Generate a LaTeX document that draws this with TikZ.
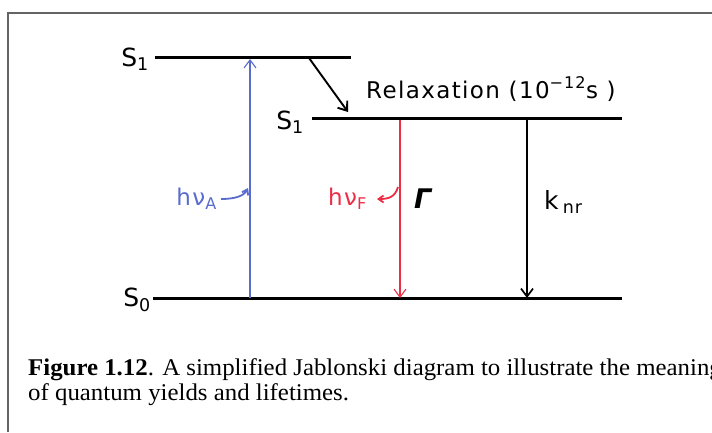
\documentclass[tikz,border=0pt]{standalone}
\usepackage{fontspec}
\setmainfont{Liberation Serif}
\setsansfont{DejaVu Sans}[LetterSpace=6]
\usetikzlibrary{arrows.meta}
\definecolor{absclr}{RGB}{90,108,205}
\definecolor{fluclr}{RGB}{235,45,70}
\definecolor{frameclr}{RGB}{100,100,100}
\tikzset{
  level/.style={line width=3pt,black},
  statelbl/.style={font=\fontsize{25}{25}\selectfont\sffamily,anchor=east,inner sep=0pt},
  lbl/.style={font=\fontsize{23}{23}\selectfont\sffamily,inner sep=0pt},
  trans/.style={-{Straight Barb[length=8pt,width=12pt]},line width=1.1pt},
  curly/.style={-{Straight Barb[length=5pt,width=7pt]},line width=1.8pt},
  caption/.style={anchor=base west,inner sep=0pt,transform shape,
                  font=\fontsize{24}{25}\selectfont},
}

\begin{document}
\begin{tikzpicture}[x=1pt,y=-1pt]
\useasboundingbox (0,0) rectangle (712,432);
\draw[frameclr,line width=1.5pt] (8,432) -- (8,13) -- (712,13);

% levels
\coordinate (s1aL) at (155,57);  \coordinate (s1aR) at (351,57);
\coordinate (s1bL) at (312,118); \coordinate (s1bR) at (622,118);
\coordinate (s0L) at (153,298);  \coordinate (s0R) at (622,298);
\draw[level] (s1aL) -- (s1aR);
\draw[level] (s1bL) -- (s1bR);
\draw[level] (s0L) -- (s0R);
\node[statelbl] (s1a) at (149,59) {S\textsubscript{1}};
\node[statelbl] (s1b) at (304,122) {S\textsubscript{1}};
\node[statelbl] (s0) at (151,300) {S\textsubscript{0}};

% transitions
\coordinate (absbot) at (250,298); \coordinate (abstop) at (250,59);
\draw[trans,absclr] (absbot) -- (abstop);
\coordinate (relaxA) at (309,58); \coordinate (relaxB) at (348,112);
\draw[trans,line width=1.9pt] (relaxA) -- (relaxB);
\coordinate (flutop) at (400,120); \coordinate (flubot) at (400,298);
\draw[trans,fluclr] (flutop) -- (flubot);
\coordinate (nrtop) at (527,120); \coordinate (nrbot) at (527,298);
\draw[trans,line width=1.7pt] (nrtop) -- (nrbot);

% labels
\node[lbl,anchor=base west] (relax) at (366,98) {Relaxation (10\textsuperscript{−12}s )};
\node[lbl,anchor=east,absclr] (hvA) at (217,199) {hν\textsubscript{A}};
\node[lbl,anchor=east,fluclr] (hvF) at (367,199) {hν\textsubscript{F}};
\node[lbl,font=\fontsize{27}{27}\selectfont\sffamily] (gam) at (424,199) {\textit{\textbf{Γ}}};
\node[lbl,anchor=west,font=\fontsize{25}{25}\selectfont\sffamily] (knr) at (544,202) {k\,\textsubscript{nr}};
\coordinate (hvAtip) at (248,188);
\draw[curly,absclr] ([xshift=4pt]hvA.east) .. controls +(14,0) and +(-4,8) .. (hvAtip);
\coordinate (hvFstart) at (398,187);
\draw[curly,fluclr] (hvFstart) .. controls +(-3,10) and +(12,0) .. ([xshift=10pt]hvF.east);

% caption
\begin{scope}
\clip (0,0) rectangle (712,432);
\node[caption,xscale=1.035] (cap1) at (28,375) {\textbf{Figure 1.12}. A simplified Jablonski diagram to illustrate the meaning};
\node[caption,xscale=1.035] (cap2) at (28,400) {of quantum yields and lifetimes.};
\end{scope}
\end{tikzpicture}
\end{document}
